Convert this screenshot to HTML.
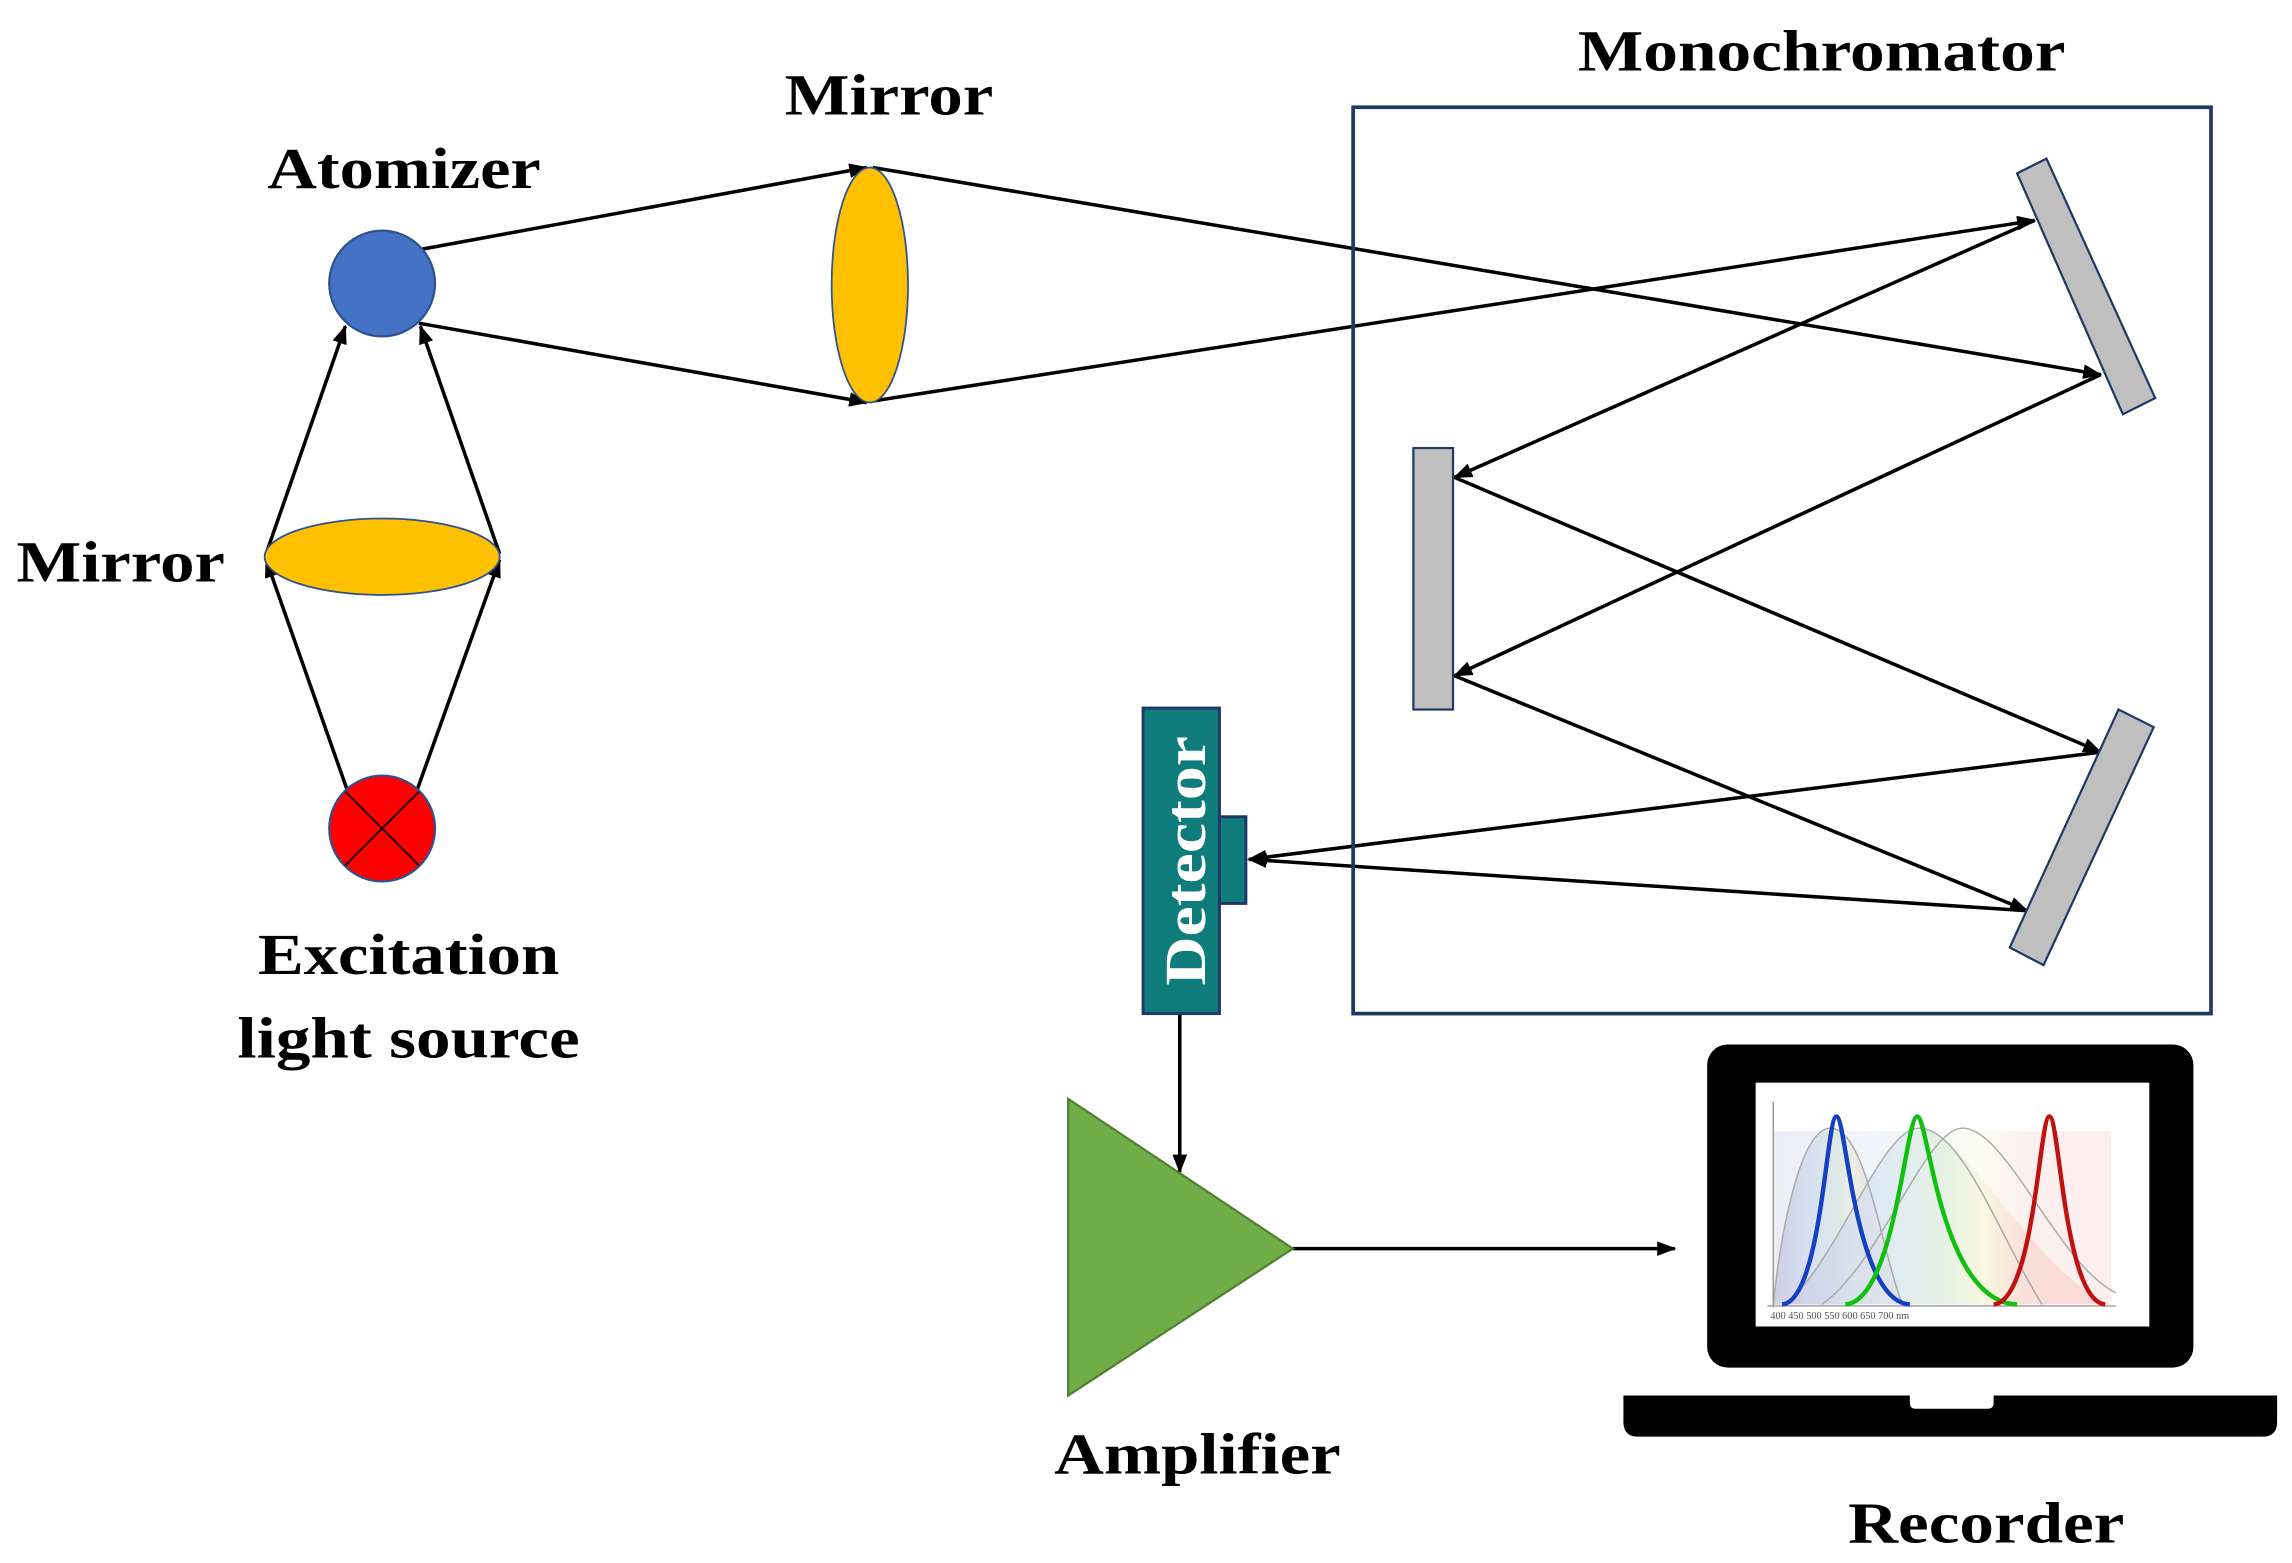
<!DOCTYPE html>
<html><head><meta charset="utf-8"><style>
html,body{margin:0;padding:0;background:#fff}
svg{display:block}
text{font-family:"Liberation Serif",serif;font-weight:bold;fill:#000}
</style></head><body>
<svg width="2292" height="1563" viewBox="0 0 1560 1064" xmlns="http://www.w3.org/2000/svg">
<defs>
<marker id="a" markerWidth="13" markerHeight="10" refX="12" refY="5" orient="auto" markerUnits="userSpaceOnUse"><path d="M0,0 L13,5 L0,10 z" fill="#000"/></marker>
<linearGradient id="sp" x1="0" x2="1" y1="0" y2="0">
<stop offset="0" stop-color="#c9c9e3"/><stop offset="0.3" stop-color="#d6e4f3"/><stop offset="0.5" stop-color="#dfeedd"/><stop offset="0.62" stop-color="#f7f5d8"/><stop offset="0.75" stop-color="#f8d6d0"/><stop offset="1" stop-color="#f8d0cc"/>
</linearGradient>
</defs>
<g stroke="#000" stroke-width="2.4" fill="none">
<line x1="237" y1="540" x2="181" y2="381" marker-end="url(#a)"/>
<line x1="283" y1="540" x2="340" y2="381" marker-end="url(#a)"/>
<line x1="181" y1="377" x2="235" y2="222" marker-end="url(#a)"/>
<line x1="340" y1="377" x2="286" y2="222" marker-end="url(#a)"/>
<line x1="285" y1="170" x2="590" y2="114" marker-end="url(#a)"/>
<line x1="285" y1="220" x2="590" y2="274" marker-end="url(#a)"/>
<line x1="594" y1="114" x2="1430" y2="255" marker-end="url(#a)"/>
<line x1="594" y1="273" x2="1385" y2="150" marker-end="url(#a)"/>
<line x1="1385" y1="150" x2="990" y2="325" marker-end="url(#a)"/>
<line x1="1430" y1="255" x2="990" y2="460" marker-end="url(#a)"/>
<line x1="990" y1="325" x2="1430" y2="512" marker-end="url(#a)"/>
<line x1="990" y1="460" x2="1380" y2="620" marker-end="url(#a)"/>
<line x1="1430" y1="512" x2="850" y2="585" marker-end="url(#a)"/>
<line x1="1380" y1="620" x2="850" y2="585" marker-end="url(#a)"/>
<line x1="803" y1="690" x2="803" y2="798" marker-end="url(#a)"/>
<line x1="880" y1="850" x2="1140" y2="850" marker-end="url(#a)"/>
</g>
<rect x="921" y="73" width="584" height="617" fill="none" stroke="#1F3864" stroke-width="2.5"/>
<circle cx="260" cy="193" r="36" fill="#4472C4" stroke="#2F528F" stroke-width="1.5"/>
<ellipse cx="592" cy="194" rx="26" ry="80" fill="#FFC000" stroke="#2F528F" stroke-width="1.2"/>
<ellipse cx="260" cy="379" rx="80" ry="26" fill="#FFC000" stroke="#2F528F" stroke-width="1.2"/>
<circle cx="260" cy="564" r="36" fill="#FF0000" stroke="#2F528F" stroke-width="1.5"/>
<line x1="235" y1="539" x2="285" y2="589" stroke="#000" stroke-width="1.2"/>
<line x1="285" y1="539" x2="235" y2="589" stroke="#000" stroke-width="1.2"/>
<polygon points="1373,118 1393,108 1467,271 1445,282" fill="#BFBFBF" stroke="#1F3864" stroke-width="1.5"/>
<rect x="962" y="305" width="27" height="178" fill="#BFBFBF" stroke="#1F3864" stroke-width="1.5"/>
<polygon points="1368,645 1442,483 1466,495 1391,657" fill="#BFBFBF" stroke="#1F3864" stroke-width="1.5"/>
<rect x="778" y="482" width="52" height="208" fill="#0E7C7B" stroke="#1F3864" stroke-width="2"/>
<rect x="830" y="556" width="18" height="59" fill="#0E7C7B" stroke="#1F3864" stroke-width="2"/>
<text x="0" y="0" transform="translate(820,586) rotate(-90)" text-anchor="middle" font-size="40" style="fill:#fff" textLength="170" lengthAdjust="spacingAndGlyphs">Detector</text>
<polygon points="727,748 727,950 880,850" fill="#70AD47" stroke="#507E32" stroke-width="1.5"/>
<rect x="1162" y="711" width="331" height="220" rx="14" fill="#000"/>
<rect x="1195" y="737" width="268" height="166" fill="#fff"/>
<path d="M1105,950 H1550 V968 Q1550,978 1540,978 H1115 Q1105,978 1105,968 Z" fill="#000"/>
<path d="M1300,950 H1357 V955 Q1357,959 1353,959 H1304 Q1300,959 1300,955 Z" fill="#fff"/>
<g>
<path d="M1207,888 C1212,840 1225,770 1245,768 C1270,766 1280,850 1295,888 Z" fill="url(#sp)" opacity="0.85"/>
<path d="M1215,888 C1250,860 1280,770 1305,768 C1335,766 1380,860 1435,888 Z" fill="url(#sp)" opacity="0.7"/>
<rect x="1207" y="770" width="230" height="118" fill="url(#sp)" opacity="0.35"/>
<path d="M1207,888 C1212,840 1225,770 1245,768 C1270,766 1280,850 1295,888" fill="none" stroke="#aaa" stroke-width="1"/>
<path d="M1215,888 C1250,860 1280,770 1305,768 C1335,766 1360,840 1390,888" fill="none" stroke="#aaa" stroke-width="1"/>
<path d="M1240,888 C1280,860 1310,770 1335,768 C1365,766 1400,860 1440,880" fill="none" stroke="#aaa" stroke-width="1"/>
<line x1="1207" y1="750" x2="1207" y2="890" stroke="#999" stroke-width="1"/>
<line x1="1203" y1="889" x2="1440" y2="889" stroke="#999" stroke-width="1"/>
<path d="M1213,888 C1240,886 1243,760 1250,760 C1257,760 1262,886 1300,888" fill="none" stroke="#1540C0" stroke-width="3"/>
<path d="M1256,888 C1290,886 1297,760 1305,760 C1313,760 1320,886 1373,888" fill="none" stroke="#10C010" stroke-width="3"/>
<path d="M1357,888 C1385,886 1388,760 1395,760 C1402,760 1405,886 1433,888" fill="none" stroke="#C01010" stroke-width="3"/>
<text x="1205" y="898" font-size="7" style="font-weight:normal;fill:#555">400   450    500    550    600    650   700 nm</text>
</g>
<text x="275" y="128" text-anchor="middle" font-size="40" textLength="186" lengthAdjust="spacingAndGlyphs">Atomizer</text>
<text x="605" y="78" text-anchor="middle" font-size="40" textLength="142" lengthAdjust="spacingAndGlyphs">Mirror</text>
<text x="82" y="396" text-anchor="middle" font-size="40" textLength="142" lengthAdjust="spacingAndGlyphs">Mirror</text>
<text x="1240" y="48" text-anchor="middle" font-size="40" textLength="332" lengthAdjust="spacingAndGlyphs">Monochromator</text>
<text x="278" y="663" text-anchor="middle" font-size="40" textLength="205" lengthAdjust="spacingAndGlyphs">Excitation</text>
<text x="278" y="720" text-anchor="middle" font-size="40" textLength="233" lengthAdjust="spacingAndGlyphs">light source</text>
<text x="815" y="1003" text-anchor="middle" font-size="40" textLength="195" lengthAdjust="spacingAndGlyphs">Amplifier</text>
<text x="1352" y="1050" text-anchor="middle" font-size="40" textLength="188" lengthAdjust="spacingAndGlyphs">Recorder</text>
</svg>
</body></html>
